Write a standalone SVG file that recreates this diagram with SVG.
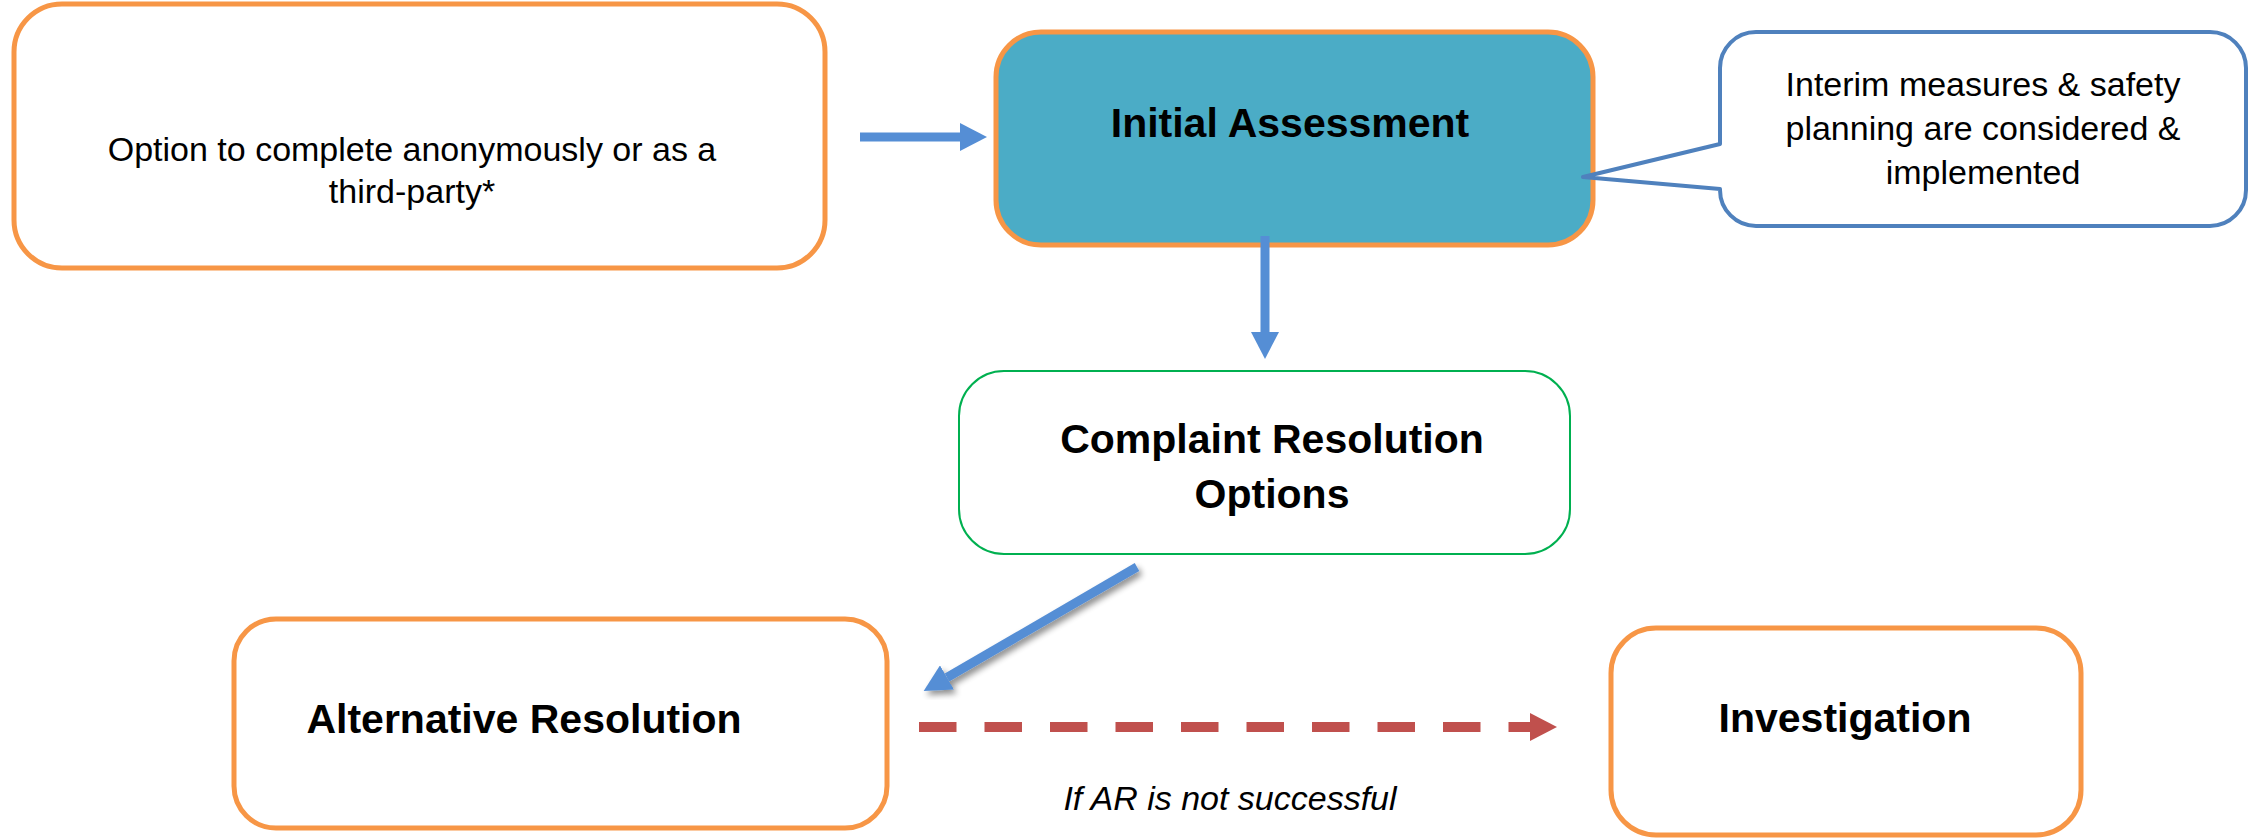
<svg xmlns="http://www.w3.org/2000/svg" width="2262" height="838" viewBox="0 0 2262 838">
  <style>
    .box { fill: #FFFFFF; stroke: #F79646; stroke-width: 5; }
    .txt { font-family: "Liberation Sans", Arial, sans-serif; fill: #000000; text-anchor: middle; }
    .reg { font-size: 34px; }
    .bold { font-size: 41px; font-weight: bold; }
    .ital { font-size: 34px; font-style: italic; }
    .blue { stroke: #558ED5; stroke-width: 9; fill: none; }
    .red { stroke: #C0504D; stroke-width: 10; fill: none; stroke-dasharray: 37.5 28; }
  </style>
  <defs>
    <marker id="headBlue" markerUnits="userSpaceOnUse" markerWidth="28" markerHeight="28" refX="0" refY="14" orient="auto">
      <path d="M0,0 L27,14 L0,28 Z" fill="#558ED5"/>
    </marker>
    <marker id="headRed" markerUnits="userSpaceOnUse" markerWidth="28" markerHeight="28" refX="0" refY="14" orient="auto">
      <path d="M0,0 L27,14 L0,28 Z" fill="#C0504D"/>
    </marker>
    <filter id="shadow" x="-20%" y="-20%" width="140%" height="140%">
      <feGaussianBlur in="SourceAlpha" stdDeviation="3"/>
      <feOffset dx="3" dy="4" result="blur"/>
      <feComponentTransfer><feFuncA type="linear" slope="0.45"/></feComponentTransfer>
      <feMerge><feMergeNode/><feMergeNode in="SourceGraphic"/></feMerge>
    </filter>
  </defs>

  <!-- reporting options -->
  <g id="node-option">
    <rect class="box" x="14" y="4" width="811" height="264" rx="48" ry="48"/>
    <text class="txt reg" x="412" y="161">Option to complete anonymously or as a</text>
    <text class="txt reg" x="412" y="203">third-party*</text>
  </g>

  <!-- initial assessment -->
  <g id="node-initial">
    <rect x="996" y="32" width="597" height="213" rx="45" ry="45" fill="#4BACC6" stroke="#F79646" stroke-width="5"/>
    <text class="txt bold" x="1290" y="137">Initial Assessment</text>
  </g>

  <!-- callout attached to the assessment box -->
  <g id="node-interim">
    <path d="M1756,32 H2210 A36,36 0 0 1 2246,68 V190 A36,36 0 0 1 2210,226 H1756 A36,36 0 0 1 1720,190 V189 L1583,177 L1720,144 V68 A36,36 0 0 1 1756,32 Z" fill="#FFFFFF" stroke="#4F81BD" stroke-width="4" stroke-linejoin="round"/>
    <text class="txt reg" x="1983" y="96">Interim measures &amp; safety</text>
    <text class="txt reg" x="1983" y="140">planning are considered &amp;</text>
    <text class="txt reg" x="1983" y="184">implemented</text>
  </g>

  <!-- resolution options -->
  <g id="node-options">
    <rect x="959" y="371" width="611" height="183" rx="45" ry="45" fill="#FFFFFF" stroke="#00B050" stroke-width="2"/>
    <text class="txt bold" x="1272" y="453">Complaint Resolution</text>
    <text class="txt bold" x="1272" y="508">Options</text>
  </g>

  <!-- alternative resolution -->
  <g id="node-ar">
    <rect class="box" x="234" y="619" width="653" height="209" rx="42" ry="42"/>
    <text class="txt bold" x="524" y="733">Alternative Resolution</text>
  </g>

  <!-- investigation -->
  <g id="node-investigation">
    <rect class="box" x="1611" y="628" width="470" height="207" rx="45" ry="45"/>
    <text class="txt bold" x="1845" y="732">Investigation</text>
  </g>

  <!-- connectors -->
  <g id="connectors">
    <line class="blue" x1="860" y1="137" x2="960" y2="137" marker-end="url(#headBlue)"/>
    <line class="blue" x1="1265" y1="236" x2="1265" y2="332" marker-end="url(#headBlue)"/>
    <g filter="url(#shadow)">
      <line class="blue" x1="1137" y1="567" x2="947" y2="677.5" marker-end="url(#headBlue)"/>
    </g>
    <line class="red" x1="919" y1="727" x2="1530" y2="727" marker-end="url(#headRed)"/>
    <text class="txt ital" x="1230" y="810">If AR is not successful</text>
  </g>
</svg>
